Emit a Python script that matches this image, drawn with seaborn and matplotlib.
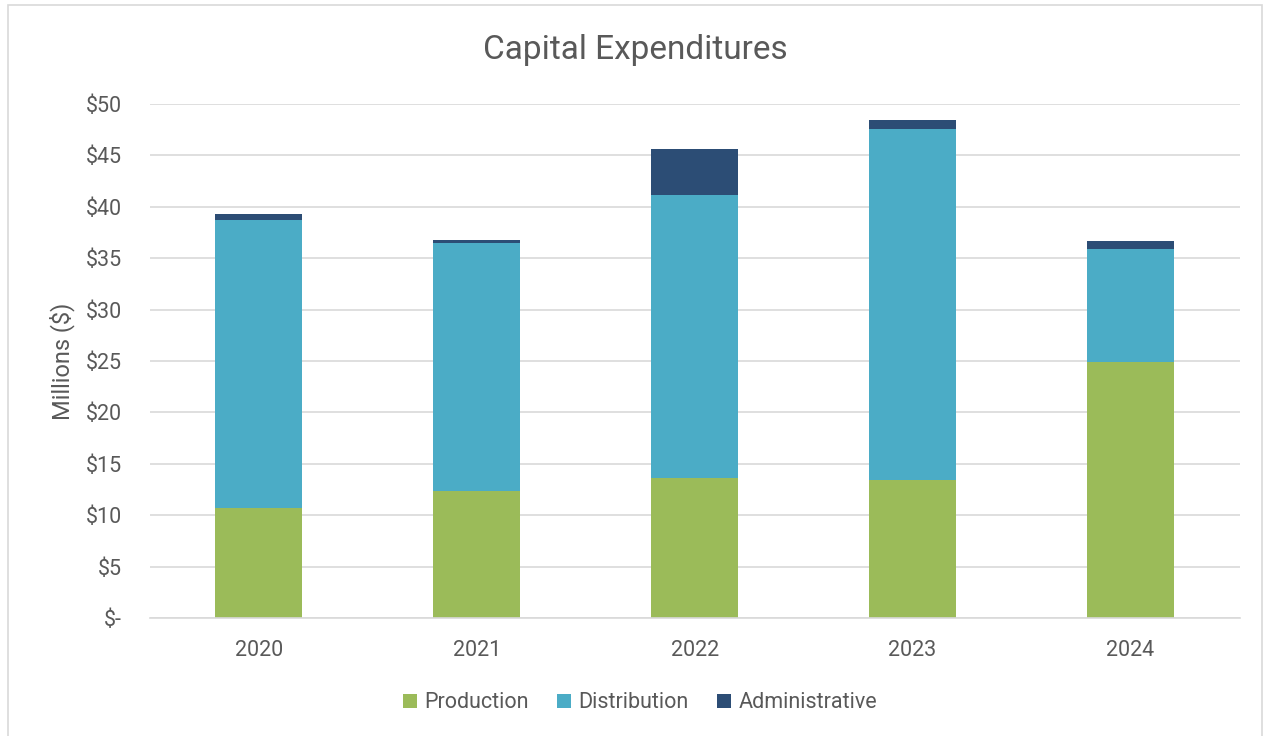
import matplotlib
matplotlib.use("Agg")
import matplotlib.pyplot as plt
import pandas as pd
import seaborn as sns
from matplotlib.patches import Patch, Rectangle

years = ["2020", "2021", "2022", "2023", "2024"]
production = [10.7, 12.35, 13.65, 13.4, 24.9]
distribution = [28.0, 24.1, 27.45, 34.1, 11.0]
administrative = [0.55, 0.32, 4.5, 0.9, 0.75]

series = ["Production", "Distribution", "Administrative"]
colores = ["#9BBB59", "#4BACC6", "#2C4D75"]
ticks = [0, 5, 10, 15, 20, 25, 30, 35, 40, 45, 50]
tick_labels = ["$-", "$5", "$10", "$15", "$20", "$25", "$30", "$35", "$40", "$45", "$50"]

df = pd.DataFrame({"Year": years, "Production": production,
                   "Distribution": distribution, "Administrative": administrative})

sns.set_style("white")
plt.rcParams["font.family"] = ["Roboto", "DejaVu Sans"]

fig = plt.figure(figsize=(12.7, 7.36), dpi=100)
ax = fig.add_axes([0.118, 0.160, 0.858, 0.699])

fondo = [0] * len(years)
for nombre, color in zip(series, colores):
    sns.barplot(data=df, x="Year", y=nombre, order=years, color=color,
                width=0.40, bottom=fondo, ax=ax, linewidth=0, saturation=1)
    fondo = [a + b for a, b in zip(fondo, df[nombre])]

ax.set_xlim(-0.5, 4.5)
ax.set_ylim(0, 50)
ax.set_yticks(ticks)
ax.set_yticklabels(tick_labels)
ax.yaxis.grid(True, color="#D9D9D9", linewidth=1.2)
ax.set_axisbelow(True)
for s in ["top", "right", "left"]:
    ax.spines[s].set_visible(False)
ax.spines["bottom"].set_color("#D9D9D9")
ax.spines["bottom"].set_linewidth(1.2)
ax.tick_params(axis="both", length=0, labelsize=15.5, labelcolor="#595959")
ax.tick_params(axis="x", pad=16)
ax.tick_params(axis="y", pad=20)
ax.set_xlabel("")
ax.set_ylabel("Millions ($)", fontsize=17, color="#595959", labelpad=8)

fig.text(0.5, 0.932, "Capital Expenditures", ha="center", va="center",
         fontsize=24, color="#595959")

handles = [Patch(facecolor=c, edgecolor="none") for c in colores]
fig.legend(handles, series, loc="center", bbox_to_anchor=(0.504, 0.045), ncol=3,
           frameon=False, fontsize=15.5, labelcolor="#595959", handlelength=0.65,
           handleheight=0.65, handletextpad=0.35, columnspacing=1.3)

fig.patches.append(Rectangle((0.006, -0.01), 0.988, 1.003, transform=fig.transFigure,
                             fill=False, edgecolor="#D9D9D9", linewidth=1.2))

fig.savefig("out.png", dpi=100)
